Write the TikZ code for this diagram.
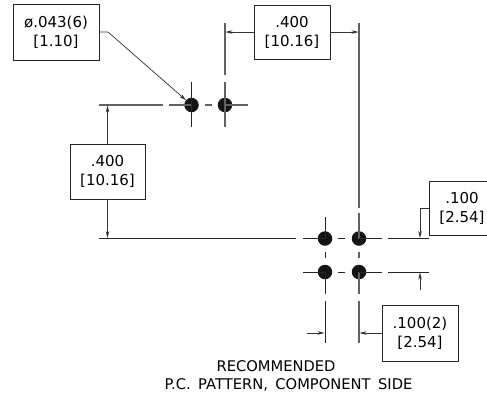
\documentclass[tikz,border=0pt]{standalone}
\usepackage{fontspec}
\setmainfont{DejaVu Sans}
\newfontfamily\capfont[WordSpace=1.6]{DejaVu Sans}
\usetikzlibrary{arrows.meta}
\tikzset{
  dimbox/.style={draw=black!85,line width=0.9pt,fill=white,inner sep=0pt,align=center,font=\fontsize{15}{19}\selectfont},
  hole/.style={circle,fill=black!92,minimum size=14.5pt,inner sep=0pt},
  cl/.style={draw=black!62,line width=1.2pt},
  cld/.style={draw=black!85,line width=0.8pt},
  dimline/.style={draw=black!80,line width=0.7pt,-{Stealth[length=7pt,width=3.6pt]}},
  caption/.style={font=\capfont\fontsize{14.7}{19}\selectfont,inner sep=0pt,align=center}
}
\begin{document}
\begin{tikzpicture}[x=1pt,y=-1pt]
\useasboundingbox (0,0) rectangle (487,397);
\clip (0,0) rectangle (487,397);
\fill[white] (0,0) rectangle (487,397);
% holes
\node[hole] (h1) at (191.5,105) {};
\node[hole] (h2) at (225,105) {};
\node[hole] (h3) at (325,238.5) {};
\node[hole] (h4) at (359,238.5) {};
\node[hole] (h5) at (325,272) {};
\node[hole] (h6) at (359,272) {};
% centre and extension lines
\draw[cl] (99,105) -- (163,105) (169,105) -- (h1.center) (205,105) -- (212,105) (h2.center) -- (248,105);
\draw[cld] (191.5,82) -- (191.5,127);
\draw[cl] (225,23) -- (225,75) (225,82) -- (225,127);
\draw[cl] (359,23) -- (359,208) (359,213) -- (h4.center) (359,252) -- (359,258) (h6.center) -- (359,294) (359,301) -- (359,343);
\draw[cld] (325,217) -- (325,239) (325,252) -- (325,258) (325,272) -- (325,294) (325,301) -- (325,343);
\draw[cld] (99,238.5) -- (296,238.5) (303,238.5) -- (h3.center) (338,238.5) -- (345,238.5) (h4.center) -- (382,238.5) (388,238.5) -- (429,238.5);
\draw[cld] (303,272) -- (h5.center) (338,272) -- (345,272) (h6.center) -- (382,272) (388,272) -- (429,272);
% boxes
\node[dimbox,minimum width=86pt,minimum height=56pt] (b1) at (56,32) {ø.043(6)\\{[1.10]}};
\node[dimbox,minimum width=76pt,minimum height=54pt] (b2) at (292,32) {.400\\{[10.16]}};
\node[dimbox,minimum width=75pt,minimum height=55pt] (b3) at (107.5,171.5) {.400\\{[10.16]}};
\node[dimbox,minimum width=66pt,minimum height=54pt] (b4) at (462,208) {.100\\{[2.54]}};
\node[dimbox,minimum width=76pt,minimum height=56pt] (b5) at (420,333) {.100(2)\\{[2.54]}};
% free ends
\coordinate (k1) at (108,32);
\coordinate (a2l) at (225.5,32);
\coordinate (a2r) at (358.5,32);
\coordinate (a3u) at (107.5,105.5);
\coordinate (a3d) at (107.5,238);
\coordinate (k4) at (420,208);
\coordinate (a4) at (420,238);
\coordinate (s4) at (420,290);
\coordinate (a4b) at (420,272.5);
\coordinate (s5) at (307,333);
\coordinate (a5l) at (324.5,333);
\coordinate (a5r) at (359.5,333);
% dimension lines
\draw[dimline] (b1.east) -- (k1) -- (h1);
\draw[dimline] (b2.west) -- (a2l);
\draw[dimline] (b2.east) -- (a2r);
\draw[dimline] (b3.north) -- (a3u);
\draw[dimline] (b3.south) -- (a3d);
\draw[dimline] (b4.west) -- (k4) -- (a4);
\draw[dimline] (s4) -- (a4b);
\draw[dimline] (s5) -- (a5l);
\draw[dimline] (b5.west) -- (a5r);
% caption
\node[caption] (c1) at (276,366) {RECOMMENDED};
\node[caption] (c2) at (288.5,385) {P.C. PATTERN, COMPONENT SIDE};
\end{tikzpicture}
\end{document}
